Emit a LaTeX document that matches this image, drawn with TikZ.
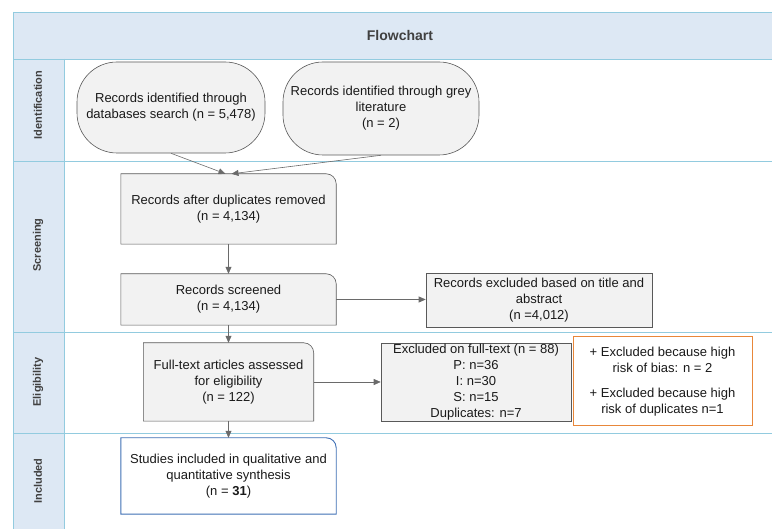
\documentclass[tikz,border=0pt]{standalone}
\usepackage{fontspec}
\setmainfont{Liberation Sans}
\usetikzlibrary{arrows.meta,backgrounds}
\definecolor{laneblue}{HTML}{DDE8F4}
\definecolor{laneline}{HTML}{92CBDF}
\definecolor{boxfill}{HTML}{F2F2F2}
\definecolor{boxline}{HTML}{595959}
\definecolor{txt}{HTML}{1A1A1A}
\definecolor{hdr}{HTML}{404040}
\definecolor{orangeb}{HTML}{E8873A}
\definecolor{blueb}{HTML}{3F6FB5}
\definecolor{arrowc}{HTML}{6A6A6A}
\newcommand{\trshape}[2]{%
  \draw[#2] (#1.south west) -- (#1.north west) -- ([xshift=-10pt]#1.north east)
    arc[start angle=90,end angle=0,radius=10pt] -- (#1.south east) -- cycle;}
\begin{document}
\begin{tikzpicture}[x=1pt,y=1pt,
  every node/.style={font=\fontsize{13}{16}\selectfont, text=txt, inner sep=0pt, align=center},
  lanefill/.style={fill=laneblue},
  laneln/.style={draw=laneline, line width=0.8pt},
  lanelabel/.style={font=\fontsize{11}{13}\selectfont\bfseries, text=hdr, rotate=90},
  stad/.style={draw=boxline, fill=boxfill, line width=0.6pt, rounded corners=40pt},
  plainbox/.style={draw=boxline, fill=boxfill, line width=0.6pt},
  grayshape/.style={draw=boxline, fill=boxfill, line width=0.6pt},
  blueshape/.style={draw=blueb, fill=white, line width=0.9pt},
  orangebox/.style={draw=orangeb, fill=white, line width=1pt},
  arr/.style={draw=arrowc, line width=0.6pt, -{Triangle[length=7pt,width=6pt]}}
]
\useasboundingbox (0,0) rectangle (772,529);
% lanes
\fill[lanefill] (13,470) rectangle (772,517);
\fill[lanefill] (13,0) rectangle (64,470);
\draw[laneln] (13,517) -- (772,517);
\draw[laneln] (13,470) -- (772,470);
\draw[laneln] (13,368) -- (772,368);
\draw[laneln] (13,197) -- (772,197);
\draw[laneln] (13,96) -- (772,96);
\draw[laneln] (13,517) -- (13,0);
\draw[laneln] (64,470) -- (64,0);
\node[font=\fontsize{14}{16}\selectfont\bfseries, text=hdr] (title) at (400,493.5) {Flowchart};
\node[lanelabel] (lid) at (38,424) {Identification};
\node[lanelabel] (lsc) at (38,284) {Screening};
\node[lanelabel] (lel) at (38,147) {Eligibility};
\node[lanelabel] (lin) at (38,48) {Included};
% nodes
\node[stad, minimum width=188pt, minimum height=91pt] (n1) at (171,421.5)
  {Records identified through\\databases search (n = 5,478)};
\node[stad, minimum width=196pt, minimum height=93pt] (n2) at (381,420.5)
  {Records identified through grey\\literature\\(n = 2)};
\node[minimum width=215pt, minimum height=70pt] (n3) at (228.5,320)
  {Records after duplicates removed\\(n = 4,134)};
\node[minimum width=215pt, minimum height=51pt] (n4) at (228.5,229.5)
  {Records screened\\(n = 4,134)};
\node[plainbox, minimum width=226pt, minimum height=54pt] (n5) at (539,229)
  {Records excluded based on title and\\abstract\\(n =4,012)};
\node[minimum width=170pt, minimum height=78pt] (n6) at (228.5,147)
  {Full-text articles assessed\\for eligibility\\(n = 122)};
\node[plainbox, minimum width=190pt, minimum height=78pt] (n7) at (476,147)
  {Excluded on full-text (n = 88)\\P: n=36\\I: n=30\\S: n=15\\Duplicates: n=7};
\node[orangebox, minimum width=179pt, minimum height=89pt] (n8) at (662.5,147.5)
  {+ Excluded because high\\risk of bias: n = 2\\[9pt]+ Excluded because high\\risk of duplicates n=1};
\node[minimum width=215pt, minimum height=76pt] (n9) at (228.5,53)
  {Studies included in qualitative and\\quantitative synthesis\\(n = \textbf{31})};
\begin{scope}[on background layer]
  \trshape{n3}{grayshape}
  \trshape{n4}{grayshape}
  \trshape{n6}{grayshape}
  \trshape{n9}{blueshape}
\end{scope}
% connectors
\draw[arr] (n1.south) -- ([xshift=-3pt]n3.north);
\draw[arr] (n2.south) -- ([xshift=3pt]n3.north);
\draw[arr] (n3.south) -- (n4.north);
\draw[arr] (n4.east) -- (n4.east -| n5.west);
\draw[arr] (n4.south) -- (n6.north);
\draw[arr] (n6.east) -- (n7.west);
\draw[arr] (n6.south) -- (n9.north);
\end{tikzpicture}
\end{document}
